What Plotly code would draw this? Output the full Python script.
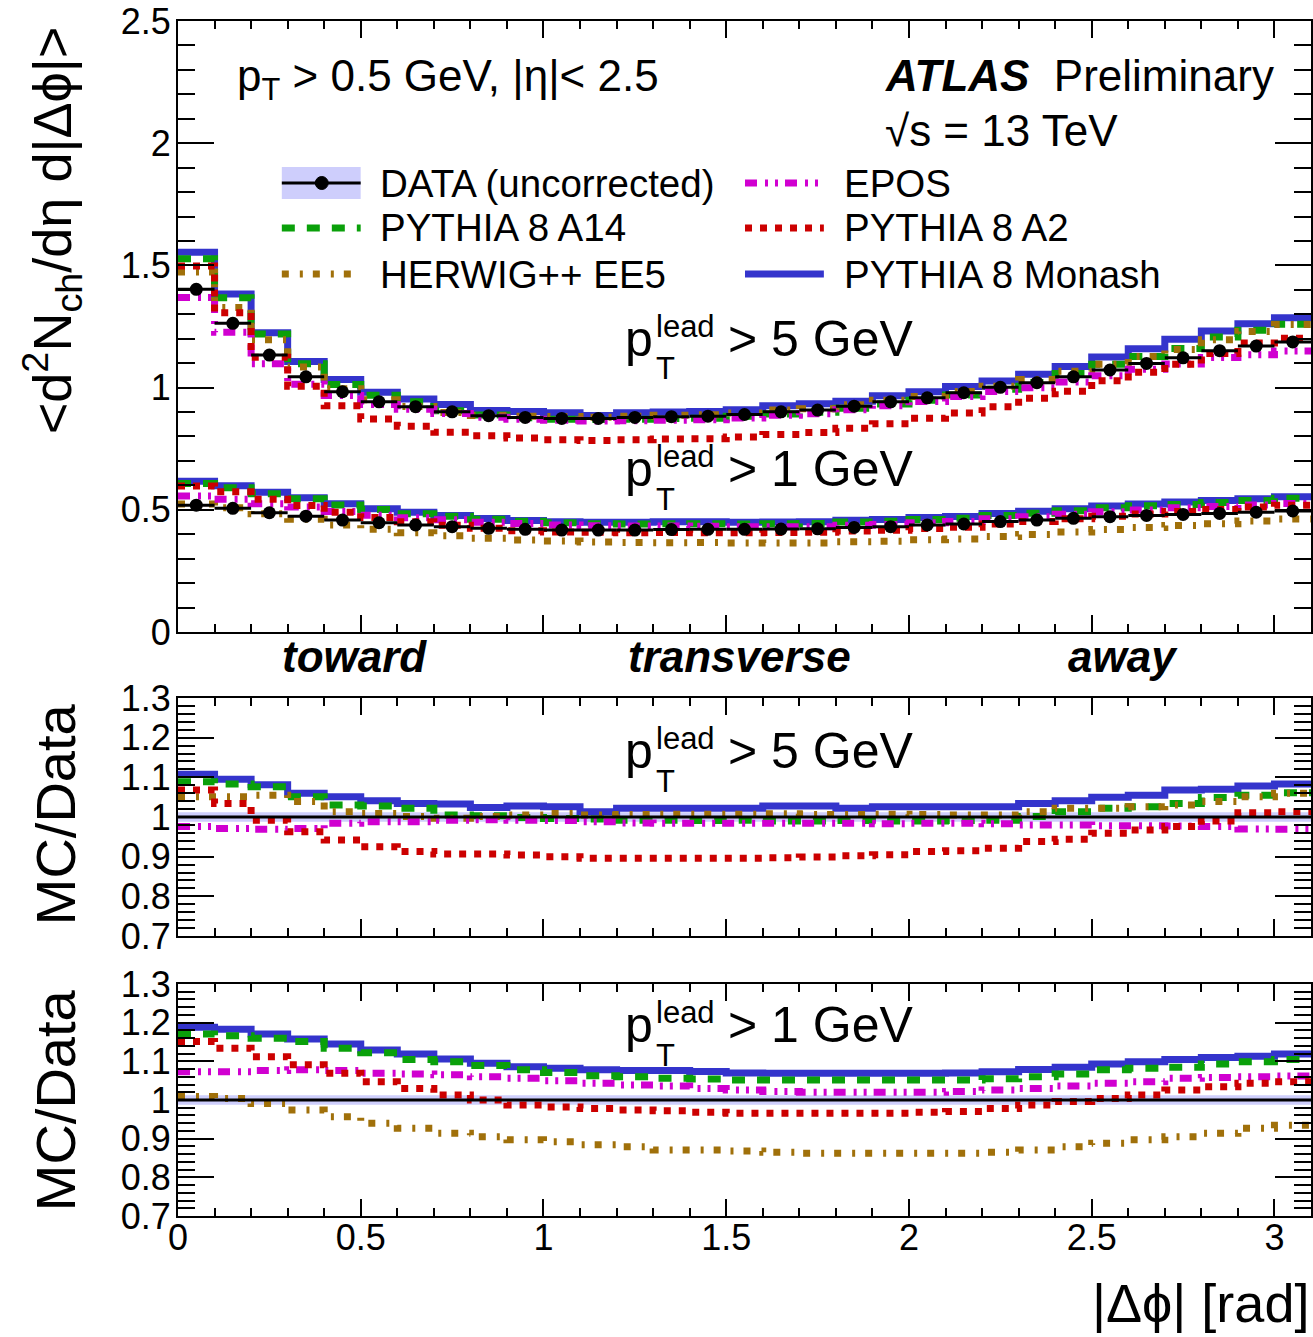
import plotly.graph_objects as go

# ---------------- data ----------------
bin_edges = [0.0, 0.1, 0.2, 0.3, 0.4, 0.5, 0.6, 0.7, 0.8, 0.9, 1.0, 1.1, 1.2, 1.3, 1.4, 1.5,
             1.6, 1.7, 1.8, 1.9, 2.0, 2.1, 2.2, 2.3, 2.4, 2.5, 2.6, 2.7, 2.8, 2.9, 3.0, 3.1]

# DATA (uncorrected), <d2Nch/deta d|dphi|>
data_5 = [1.402, 1.263, 1.133, 1.044, 0.983, 0.942, 0.922, 0.901, 0.885, 0.878, 0.874, 0.874,
          0.878, 0.881, 0.883, 0.890, 0.901, 0.908, 0.924, 0.942, 0.958, 0.979, 1.001, 1.020,
          1.044, 1.072, 1.099, 1.122, 1.151, 1.170, 1.187]
data_1 = [0.519, 0.506, 0.488, 0.474, 0.458, 0.447, 0.438, 0.431, 0.424, 0.420, 0.417, 0.417,
          0.417, 0.419, 0.420, 0.420, 0.421, 0.422, 0.428, 0.431, 0.438, 0.442, 0.452, 0.458,
          0.465, 0.472, 0.477, 0.481, 0.485, 0.490, 0.495]
# relative systematic band of the data
data_unc = [0.012, 0.012, 0.012, 0.012, 0.012, 0.012, 0.012, 0.012, 0.012, 0.012, 0.012, 0.012,
            0.012, 0.012, 0.012, 0.012, 0.012, 0.012, 0.012, 0.012, 0.012, 0.012, 0.012, 0.012,
            0.012, 0.012, 0.012, 0.012, 0.012, 0.012, 0.012]

# MC / Data, p_T^lead > 5 GeV
monash_5 = [1.108, 1.095, 1.081, 1.060, 1.051, 1.041, 1.034, 1.033, 1.024, 1.028, 1.026, 1.013,
            1.022, 1.022, 1.022, 1.022, 1.028, 1.028, 1.022, 1.026, 1.026, 1.026, 1.026, 1.034,
            1.041, 1.050, 1.055, 1.068, 1.070, 1.078, 1.083]
a14_5 = [1.089, 1.083, 1.076, 1.051, 1.030, 1.028, 1.022, 1.005, 1.003, 0.999, 0.996, 0.995,
         0.992, 0.992, 0.991, 0.992, 0.990, 0.990, 0.991, 0.990, 0.990, 0.991, 0.992, 1.001,
         1.013, 1.022, 1.026, 1.034, 1.049, 1.055, 1.061]
herwig_5 = [1.051, 1.051, 1.055, 1.039, 1.013, 1.009, 1.001, 0.997, 1.001, 1.005, 1.009, 1.005,
            1.006, 1.007, 1.007, 1.007, 1.008, 1.006, 1.006, 1.007, 1.006, 1.005, 1.005, 1.013,
            1.022, 1.022, 1.026, 1.030, 1.039, 1.051, 1.060]
epos_5 = [0.976, 0.971, 0.969, 0.971, 0.984, 0.988, 0.988, 0.992, 0.993, 0.992, 0.991, 0.988,
          0.985, 0.984, 0.984, 0.984, 0.984, 0.984, 0.984, 0.983, 0.984, 0.984, 0.983, 0.980,
          0.980, 0.978, 0.978, 0.977, 0.976, 0.970, 0.969]
a2_5 = [1.068, 1.034, 0.992, 0.963, 0.942, 0.925, 0.913, 0.907, 0.907, 0.904, 0.900, 0.896,
        0.896, 0.896, 0.896, 0.896, 0.897, 0.899, 0.902, 0.905, 0.913, 0.915, 0.921, 0.938,
        0.944, 0.959, 0.967, 0.976, 0.990, 1.011, 1.013]

# MC / Data, p_T^lead > 1 GeV
monash_1 = [1.188, 1.183, 1.171, 1.158, 1.145, 1.129, 1.119, 1.106, 1.095, 1.086, 1.082, 1.078,
            1.076, 1.076, 1.074, 1.070, 1.069, 1.069, 1.069, 1.069, 1.069, 1.070, 1.073, 1.079,
            1.085, 1.093, 1.099, 1.105, 1.110, 1.113, 1.119]
a14_1 = [1.171, 1.166, 1.160, 1.151, 1.134, 1.122, 1.105, 1.099, 1.089, 1.078, 1.071, 1.063,
         1.060, 1.056, 1.054, 1.052, 1.052, 1.052, 1.052, 1.052, 1.052, 1.052, 1.055, 1.060,
         1.067, 1.078, 1.082, 1.085, 1.093, 1.099, 1.105]
herwig_1 = [1.009, 1.004, 0.991, 0.974, 0.957, 0.940, 0.927, 0.914, 0.905, 0.897, 0.892, 0.884,
            0.879, 0.871, 0.871, 0.868, 0.865, 0.862, 0.862, 0.862, 0.862, 0.862, 0.865, 0.871,
            0.879, 0.888, 0.897, 0.905, 0.914, 0.927, 0.935]
epos_1 = [1.073, 1.073, 1.076, 1.078, 1.076, 1.069, 1.067, 1.065, 1.060, 1.056, 1.050, 1.043,
          1.039, 1.036, 1.030, 1.026, 1.022, 1.020, 1.020, 1.020, 1.020, 1.022, 1.026, 1.030,
          1.036, 1.043, 1.047, 1.056, 1.058, 1.060, 1.062]
a2_1 = [1.151, 1.134, 1.112, 1.091, 1.069, 1.047, 1.030, 1.013, 1.000, 0.987, 0.982, 0.978,
        0.974, 0.972, 0.968, 0.966, 0.966, 0.966, 0.966, 0.966, 0.968, 0.970, 0.978, 0.987,
        0.996, 1.004, 1.013, 1.026, 1.034, 1.043, 1.047]

model_names = ["PYTHIA 8 Monash", "PYTHIA 8 A14", "HERWIG++ EE5", "EPOS", "PYTHIA 8 A2"]

x_tick_vals = [0, 0.5, 1, 1.5, 2, 2.5, 3]
x_tick_text = ["0", "0.5", "1", "1.5", "2", "2.5", "3"]
y_top_vals = [0, 0.5, 1, 1.5, 2, 2.5]
y_top_text = ["0", "0.5", "1", "1.5", "2", "2.5"]
y_ratio_vals = [0.7, 0.8, 0.9, 1.0, 1.1, 1.2, 1.3]
y_ratio_text = ["0.7", "0.8", "0.9", "1", "1.1", "1.2", "1.3"]

# ---------------- styles ----------------
FONT = "Liberation Sans, Arial, Helvetica, sans-serif"
W, H = 1313, 1337
ML, MR, MT, MB = 178, 0, 21, 121
PW = W - ML - MR
PH = H - MT - MB

C_MONASH = "#3434CC"
C_A14 = "#0AA00A"
C_HERWIG = "#A0700A"
C_EPOS = "#D000D0"
C_A2 = "#CC0000"
C_BAND = "rgba(165,165,250,0.55)"

styles = {
    "PYTHIA 8 Monash": dict(color=C_MONASH, width=7),
    "PYTHIA 8 A14": dict(color=C_A14, width=7, dash="13px,12px"),
    "HERWIG++ EE5": dict(color=C_HERWIG, width=7, dash="7px,11px,3px,10px"),
    "EPOS": dict(color=C_EPOS, width=7, dash="12px,8px,3px,7px,3px,7px"),
    "PYTHIA 8 A2": dict(color=C_A2, width=7, dash="7px,8px"),
}
ratios_5 = [monash_5, a14_5, herwig_5, epos_5, a2_5]
ratios_1 = [monash_1, a14_1, herwig_1, epos_1, a2_1]


def px2x(px):
    return (px - ML) / PW


def px2y(py):
    return (H - MB - py) / PH


centers = [(a + b) / 2 for a, b in zip(bin_edges[:-1], bin_edges[1:])]
half_w = [(b - a) / 2 for a, b in zip(bin_edges[:-1], bin_edges[1:])]


def step_y(vals):
    return list(vals) + [vals[-1]]


fig = go.Figure()

# ---------------- top panel ----------------
for name, r5, r1 in zip(model_names, ratios_5, ratios_1):
    for dat, r in ((data_5, r5), (data_1, r1)):
        mc = [d * q for d, q in zip(dat, r)]
        fig.add_trace(go.Scatter(x=bin_edges, y=step_y(mc), mode="lines",
                                 line=dict(shape="hv", **styles[name]),
                                 xaxis="x", yaxis="y", showlegend=False, hoverinfo="skip"))
for dat in (data_5, data_1):
    fig.add_trace(go.Scatter(x=centers, y=dat, mode="markers",
                             marker=dict(color="black", size=13),
                             error_x=dict(type="data", array=half_w, color="black",
                                          thickness=3, width=0),
                             xaxis="x", yaxis="y", showlegend=False, hoverinfo="skip"))

# ---------------- ratio panels ----------------
for xa, ya, dat, ratios in (("x2", "y2", data_5, ratios_5), ("x3", "y3", data_1, ratios_1)):
    one = [d / d for d in dat]
    lo = [o - u for o, u in zip(one, data_unc)]
    hi = [o + u for o, u in zip(one, data_unc)]
    fig.add_trace(go.Scatter(x=bin_edges, y=step_y(lo), mode="lines",
                             line=dict(shape="hv", width=0, color=C_BAND),
                             xaxis=xa, yaxis=ya, showlegend=False, hoverinfo="skip"))
    fig.add_trace(go.Scatter(x=bin_edges, y=step_y(hi), mode="lines", fill="tonexty",
                             fillcolor=C_BAND, line=dict(shape="hv", width=0, color=C_BAND),
                             xaxis=xa, yaxis=ya, showlegend=False, hoverinfo="skip"))
    for name, r in zip(model_names, ratios):
        fig.add_trace(go.Scatter(x=bin_edges, y=step_y(r), mode="lines",
                                 line=dict(shape="hv", **styles[name]),
                                 xaxis=xa, yaxis=ya, showlegend=False, hoverinfo="skip"))
    fig.add_trace(go.Scatter(x=bin_edges, y=step_y(one), mode="lines",
                             line=dict(shape="hv", color="black", width=3),
                             xaxis=xa, yaxis=ya, showlegend=False, hoverinfo="skip"))

# ---------------- axes ----------------
tickfont = dict(family=FONT, size=36, color="black")


def xaxis_cfg(show_labels, anchor):
    return dict(range=[0, 3.1], domain=[0, 1], anchor=anchor,
                showline=True, linecolor="black", linewidth=2, mirror="ticks",
                ticks="inside", ticklen=17, tickwidth=2, tickcolor="black",
                tickmode="array", tickvals=x_tick_vals, ticktext=x_tick_text,
                minor=dict(ticks="inside", ticklen=8, tickwidth=2, tickcolor="black",
                           dtick=0.1, tick0=0),
                showgrid=False, zeroline=False, showticklabels=show_labels,
                tickfont=tickfont, ticklabelstandoff=-11)


def yaxis_cfg(rng, dom, vals, text, minor_dtick, anchor):
    return dict(range=rng, domain=dom, anchor=anchor,
                showline=True, linecolor="black", linewidth=2, mirror="ticks",
                ticks="inside", ticklen=36, tickwidth=2, tickcolor="black",
                tickmode="array", tickvals=vals, ticktext=text,
                minor=dict(ticks="inside", ticklen=17, tickwidth=2, tickcolor="black",
                           dtick=minor_dtick, tick0=0),
                showgrid=False, zeroline=False, tickfont=tickfont, ticklabelstandoff=-2)


annotations = []


def ann(text, px, py, size, xanchor="left", yanchor="middle", angle=0):
    annotations.append(dict(text=text, x=px2x(px), y=px2y(py), xref="paper", yref="paper",
                            xanchor=xanchor, yanchor=yanchor, showarrow=False, textangle=angle,
                            font=dict(family=FONT, size=size, color="black")))


# axis titles
ann("&lt;d<sup>2</sup>N<sub>ch</sub>/dη d|Δϕ|&gt;", 52, 230, 54, xanchor="center", angle=-90)
ann("MC/Data", 55, 814, 56, xanchor="center", angle=-90)
ann("MC/Data", 55, 1100, 56, xanchor="center", angle=-90)
ann("|Δϕ| [rad]", 1313, 1303, 54, xanchor="right")

# region labels
ann("<b><i>toward</i></b>", 355, 656, 44, xanchor="center")
ann("<b><i>transverse</i></b>", 740, 656, 44, xanchor="center")
ann("<b><i>away</i></b>", 1125, 656, 44, xanchor="center")

# texts in top panel
ann("p<sub>T</sub> &gt; 0.5 GeV, |η|&lt; 2.5", 235, 79, 44)
ann("<b><i>ATLAS</i></b>  Preliminary", 884, 76, 44)
ann("√s = 13 TeV", 884, 130, 44)


def plead(px, py, thr):
    ann("p", px, py, 50)
    ann("lead", px + 31, py - 13, 31)
    ann("T", px + 31, py + 30, 31)
    ann("&gt; %s GeV" % thr, px + 103, py, 50)


plead(624, 339, "5")
plead(624, 469, "1")
plead(624, 751, "5")
plead(624, 1025, "1")

# ---------------- manual legend ----------------
shapes = []
leg_rows = [183, 228, 274]
left_x0, left_x1, left_tx = 282, 361, 378
right_x0, right_x1, right_tx = 746, 825, 843

# DATA entry
shapes.append(dict(type="rect", xref="paper", yref="paper",
                   x0=px2x(left_x0), x1=px2x(left_x1), y0=px2y(167), y1=px2y(199),
                   fillcolor=C_BAND, line=dict(width=0), layer="above"))
shapes.append(dict(type="line", xref="paper", yref="paper",
                   x0=px2x(left_x0), x1=px2x(left_x1), y0=px2y(leg_rows[0]), y1=px2y(leg_rows[0]),
                   line=dict(color="black", width=3), layer="above"))
shapes.append(dict(type="circle", xref="paper", yref="paper",
                   x0=px2x(322 - 6.5), x1=px2x(322 + 6.5), y0=px2y(leg_rows[0] + 6.5),
                   y1=px2y(leg_rows[0] - 6.5), fillcolor="black", line=dict(color="black", width=1),
                   layer="above"))
ann("DATA (uncorrected)", left_tx, leg_rows[0], 38.5)

legend_slots = {
    "PYTHIA 8 A14": (left_x0, left_x1, left_tx, leg_rows[1]),
    "HERWIG++ EE5": (left_x0, left_x1, left_tx, leg_rows[2]),
    "EPOS": (right_x0, right_x1, right_tx, leg_rows[0]),
    "PYTHIA 8 A2": (right_x0, right_x1, right_tx, leg_rows[1]),
    "PYTHIA 8 Monash": (right_x0, right_x1, right_tx, leg_rows[2]),
}
for name, (x0, x1, tx, ry) in legend_slots.items():
    st = styles[name]
    shapes.append(dict(type="line", xref="paper", yref="paper",
                       x0=px2x(x0), x1=px2x(x1), y0=px2y(ry), y1=px2y(ry),
                       line=dict(color=st["color"], width=st["width"], dash=st.get("dash", "solid")),
                       layer="above"))
    ann(name, tx, ry, 38.5)

fig.update_layout(
    width=W, height=H,
    margin=dict(l=ML, r=MR, t=MT, b=MB),
    paper_bgcolor="white", plot_bgcolor="white",
    showlegend=False,
    xaxis=xaxis_cfg(False, "y"),
    xaxis2=xaxis_cfg(False, "y2"),
    xaxis3=xaxis_cfg(True, "y3"),
    yaxis=yaxis_cfg([0, 2.5], [px2y(632), px2y(21)], y_top_vals, y_top_text, 0.1, "x"),
    yaxis2=yaxis_cfg([0.7, 1.3], [px2y(936), px2y(698)], y_ratio_vals, y_ratio_text, 0.02, "x2"),
    yaxis3=yaxis_cfg([0.7, 1.3], [px2y(1216), px2y(984)], y_ratio_vals, y_ratio_text, 0.02, "x3"),
    annotations=annotations,
    shapes=shapes,
)
fig.update_xaxes(matches="x")

fig.write_html("out.html")
